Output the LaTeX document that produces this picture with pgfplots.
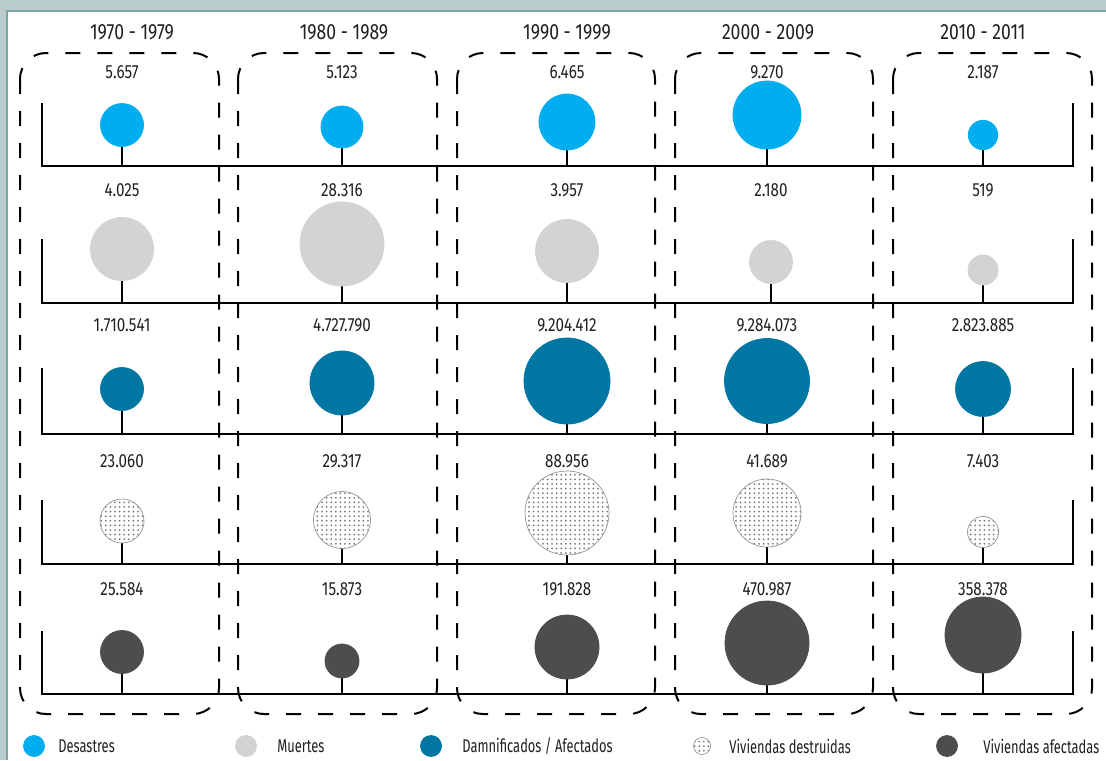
\documentclass[border=0pt]{standalone}
\usepackage{fontspec}
\setmainfont{Fira Sans}[FakeStretch=0.8]
\newfontfamily\legfont{Fira Sans}[FakeStretch=0.7]
\usepackage{pgfplots}
\pgfplotsset{compat=1.18}
\usepackage{pgfplotstable}
\usetikzlibrary{patterns,patterns.meta}

\definecolor{cDes}{HTML}{00AEEF}
\definecolor{cMue}{HTML}{D1D3D4}
\definecolor{cDam}{HTML}{0077A3}
\definecolor{cAfe}{HTML}{4D4D4F}
\definecolor{cDot}{HTML}{7A7A7A}
\definecolor{band}{HTML}{B9CCCB}
\definecolor{bandline}{HTML}{7FA3A3}
\definecolor{txt}{HTML}{231F20}

% x = column centre, y = bubble centre, r = radius (px), b = baseline, ly = label row
\pgfplotstableread{
x   y    r    b    ly   lab
122 125  21.5 166  72   5.657
342 127  21   166  72   5.123
567 122  28   166  72   6.465
767 115  34   166  72   9.270
983 135  14.7 166  72   2.187
}\desastres
\pgfplotstableread{
x   y    r    b    ly   lab
122 249  31.5 303  190  4.025
342 244  42   303  190  28.316
567 251  31.5 303  190  3.957
771 262  21.5 303  190  2.180
983 270  15   303  190  519
}\muertes
\pgfplotstableread{
x   y    r    b    ly   lab
122 389  21.5 434  325  1.710.541
342 383  32   434  325  4.727.790
567 381  43   434  325  9.204.412
767 381  42.5 434  325  9.284.073
983 389  27.5 434  325  2.823.885
}\damnificados
\pgfplotstableread{
x   y    r    b    ly   lab
122 521  22   564  461  23.060
342 520  28.5 564  461  29.317
567 513  42   564  461  88.956
767 513  34   564  461  41.689
983 532  15.5 564  461  7.403
}\destruidas
\pgfplotstableread{
x   y    r    b    ly   lab
122 652  21.5 694  589  25.584
342 661  17   694  589  15.873
567 647  32   694  589  191.828
767 643  42   694  589  470.987
983 635  38   694  589  358.378
}\afectadas
\pgfplotstableread{
x   y    r
34  746  10.5
}\legA
\pgfplotstableread{
x   y    r
246 746  10.5
}\legB
\pgfplotstableread{
x   y    r
431 746  10.5
}\legC
\pgfplotstableread{
x   y    r
702 746  8.5
}\legD
\pgfplotstableread{
x   y    r
947 746  10.5
}\legE

\pgfplotsset{
  bubble/.style={scatter, only marks, mark=*,
    scatter/use mapped color={#1},
    visualization depends on={0.5*\thisrow{r} \as \rr},
    scatter/@pre marker code/.append style={/tikz/mark size=\rr pt}},
  stems/.style={draw=none, mark=none,
    error bars/.cd, y dir=plus, y explicit, error mark=none,
    error bar style={draw=black, solid, line width=1.2pt}},
  vals/.style={only marks, mark=none, nodes near coords, point meta=explicit symbolic,
    nodes near coords style={anchor=center, font=\fontsize{9.5}{11}\selectfont, text=txt, inner sep=0pt}},
  dotted bubble/.style={bubble={draw=cDot!80, line width=0.35pt, pattern={Dots[distance=2.3pt, radius=0.5pt]}, pattern color=cDot}},
}

\begin{document}
\begin{tikzpicture}
\useasboundingbox (0,0) rectangle (553pt,380pt);
\fill[band] (0,0) rectangle (553pt,380pt);
\fill[white] (3.5pt,0) rectangle (553pt,374.5pt);
\draw[bandline, line width=0.6pt] (3.5pt,0) -- (3.5pt,374.5pt) -- (553pt,374.5pt);
\begin{axis}[width=553pt, height=380pt, scale only axis,
  xmin=0, xmax=1106, ymin=0, ymax=760, y dir=reverse,
  hide axis, clip=false]

% dashed boxes
\foreach \a/\c in {20/219, 238/437, 457/655, 675/873, 893/1092}{
  \edef\tmp{\noexpand\draw[black, line width=1pt, dash pattern=on 7.5pt off 8.5pt, rounded corners=13pt]
    (axis cs:\a,53) rectangle (axis cs:\c,714);}\tmp
}

% row frames
\addplot[black, line width=1.2pt] coordinates {(42,103) (42,166) (1073,166) (1073,103)};
\addplot[black, line width=1.2pt] coordinates {(42,239) (42,303) (1073,303) (1073,239)};
\addplot[black, line width=1.2pt] coordinates {(42,368) (42,434) (1073,434) (1073,368)};
\addplot[black, line width=1.2pt] coordinates {(42,500) (42,564) (1073,564) (1073,500)};
\addplot[black, line width=1.2pt] coordinates {(42,631) (42,694) (1073,694) (1073,631)};

% stems
\addplot[stems] table[x=x, y expr=\thisrow{y}+\thisrow{r}, y error expr=\thisrow{b}-\thisrow{y}-\thisrow{r}] {\desastres};
\addplot[stems] table[x=x, y expr=\thisrow{y}+\thisrow{r}, y error expr=\thisrow{b}-\thisrow{y}-\thisrow{r}] {\muertes};
\addplot[stems] table[x=x, y expr=\thisrow{y}+\thisrow{r}, y error expr=\thisrow{b}-\thisrow{y}-\thisrow{r}] {\damnificados};
\addplot[stems] table[x=x, y expr=\thisrow{y}+\thisrow{r}, y error expr=\thisrow{b}-\thisrow{y}-\thisrow{r}] {\destruidas};
\addplot[stems] table[x=x, y expr=\thisrow{y}+\thisrow{r}, y error expr=\thisrow{b}-\thisrow{y}-\thisrow{r}] {\afectadas};

% bubbles
\addplot[bubble={draw=cDes, fill=cDes}] table[x=x, y=y] {\desastres};
\addplot[bubble={draw=cMue, fill=cMue}] table[x=x, y=y] {\muertes};
\addplot[bubble={draw=cDam, fill=cDam}] table[x=x, y=y] {\damnificados};
\addplot[dotted bubble] table[x=x, y=y] {\destruidas};
\addplot[bubble={draw=cAfe, fill=cAfe}] table[x=x, y=y] {\afectadas};

% value labels
\addplot[vals] table[x=x, y=ly, meta=lab] {\desastres};
\addplot[vals] table[x=x, y=ly, meta=lab] {\muertes};
\addplot[vals] table[x=x, y=ly, meta=lab] {\damnificados};
\addplot[vals] table[x=x, y=ly, meta=lab] {\destruidas};
\addplot[vals] table[x=x, y=ly, meta=lab] {\afectadas};

% headers
\foreach \xx/\tt in {132/1970 - 1979, 344/1980 - 1989, 567/1990 - 1999, 768/2000 - 2009, 983/2010 - 2011}{
  \edef\tmp{\noexpand\node[font=\noexpand\fontsize{11}{13}\noexpand\selectfont, text=txt] at (axis cs:\xx,32) {\tt};}\tmp
}

% legend
\addplot[bubble={draw=cDes, fill=cDes}] table[x=x, y=y] {\legA};
\addplot[bubble={draw=cMue, fill=cMue}] table[x=x, y=y] {\legB};
\addplot[bubble={draw=cDam, fill=cDam}] table[x=x, y=y] {\legC};
\addplot[dotted bubble] table[x=x, y=y] {\legD};
\addplot[bubble={draw=cAfe, fill=cAfe}] table[x=x, y=y] {\legE};
\foreach \xx/\tt in {58/{Desastres}, 277/{Muertes}, 462/{Damnificados / Afectados}, 729/{Viviendas destruidas}, 983/{Viviendas afectadas}}{
  \edef\tmp{\noexpand\node[anchor=west, inner sep=0pt, font=\noexpand\legfont\noexpand\fontsize{9.2}{11}\noexpand\selectfont, text=txt] at (axis cs:\xx,746) {\tt};}\tmp
}
\end{axis}
\end{tikzpicture}
\end{document}
